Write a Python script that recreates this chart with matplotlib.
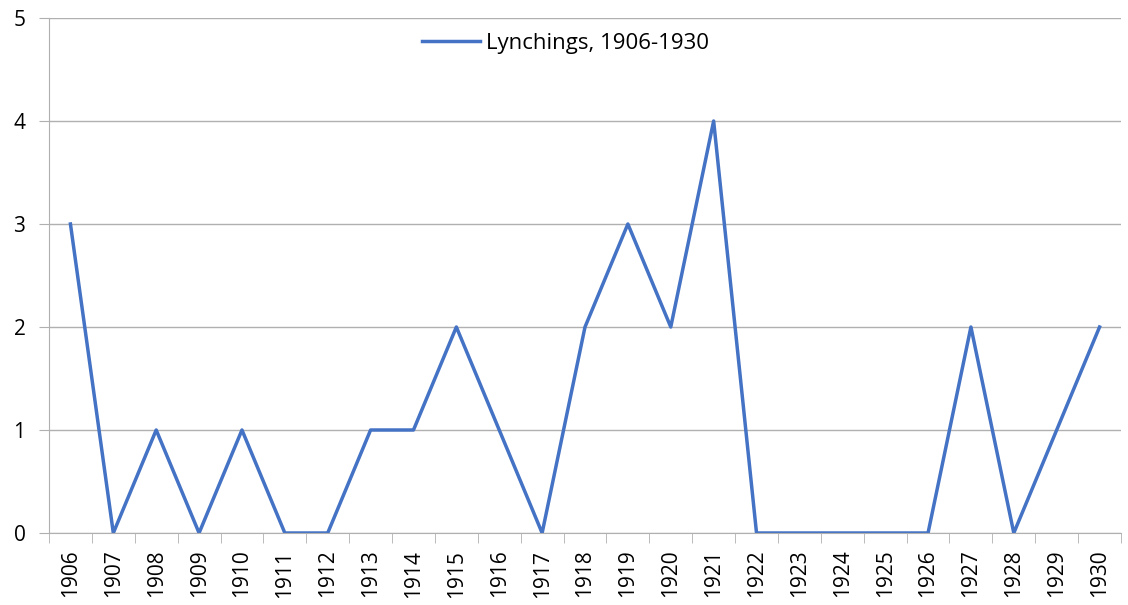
import matplotlib.pyplot as plt
import numpy as np

years = [str(y) for y in range(1906, 1931)]
lynchings = [3, 0, 1, 0, 1, 0, 0, 1, 1, 2, 1, 0, 2, 3, 2, 4,
             0, 0, 0, 0, 0, 2, 0, 1, 2]
y_ticks = [0, 1, 2, 3, 4, 5]

plt.rcParams['font.family'] = ['Open Sans', 'DejaVu Sans']

fig = plt.figure(figsize=(11.28, 6.05), dpi=100)
ax = fig.add_axes([49 / 1128, 1 - 533 / 605, (1121 - 49) / 1128, (533 - 18) / 605])

x = np.arange(len(years))
ax.plot(x, lynchings, color="#4472C4", linewidth=2.5, label="Lynchings, 1906-1930")

ax.set_xlim(-0.5, len(years) - 0.5)
ax.set_ylim(0, 5)
ax.set_yticks(y_ticks)
ax.set_yticklabels([str(v) for v in y_ticks], fontsize=15)
ax.set_xticks(x)
ax.set_xticklabels(years, rotation=90, fontsize=15)
ax.set_xticks(np.arange(-0.5, len(years), 1), minor=True)

grid_c = "#B0B0B0"
ax.yaxis.grid(True, color=grid_c, linewidth=1)
ax.set_axisbelow(True)
for s in ["top", "right"]:
    ax.spines[s].set_visible(False)
ax.spines["left"].set_color(grid_c)
ax.spines["bottom"].set_color(grid_c)
ax.tick_params(axis="x", which="major", length=0, pad=12)
ax.tick_params(axis="x", which="minor", length=7, color=grid_c)
ax.tick_params(axis="y", length=7, color=grid_c, pad=10)

ax.legend(loc="upper center", bbox_to_anchor=(0.482, 1.01), frameon=False,
          fontsize=16, handlelength=2.6, handletextpad=0.3)

fig.savefig("out.png", dpi=100)
